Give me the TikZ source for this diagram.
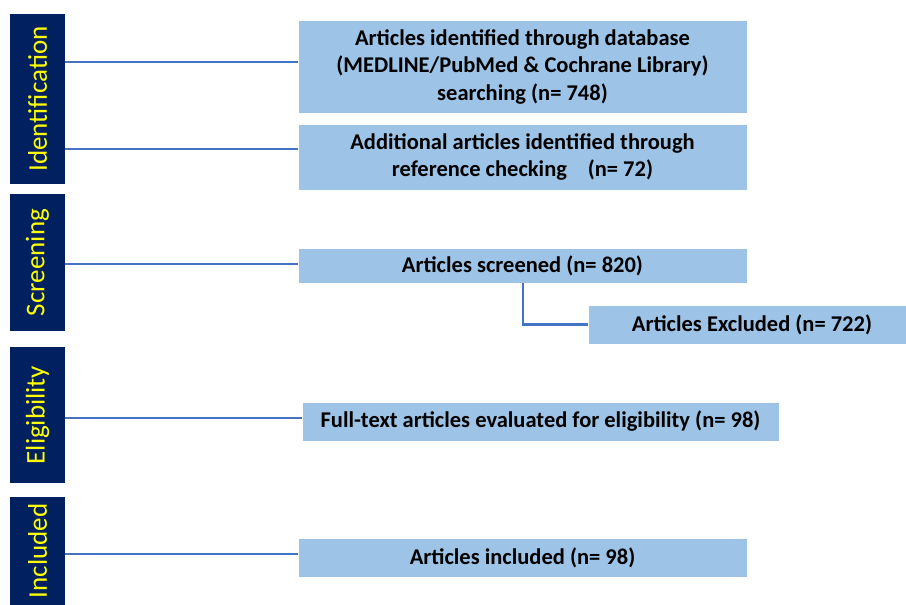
\documentclass[tikz,border=0pt]{standalone}
\usepackage{fontspec}
\setmainfont{Carlito}
\definecolor{barblue}{HTML}{002060}
\definecolor{boxblue}{HTML}{9DC3E6}
\definecolor{linkblue}{HTML}{4472C4}
\definecolor{labyellow}{HTML}{FFFF00}
\tikzset{
  stage/.style={rectangle, fill=barblue, text=labyellow, rotate=90, inner sep=0pt,
    minimum height=55pt, font=\fontsize{27}{30}\selectfont},
  infobox/.style={rectangle, fill=boxblue, draw=white, line width=0.6pt, inner sep=0pt, align=center,
    text=black, font=\fontsize{22.5}{27.5}\selectfont\bfseries},
  link/.style={draw=linkblue, line width=2.3pt}
}
\begin{document}
\begin{tikzpicture}[x=1pt,y=-1pt]
\useasboundingbox (0,0) rectangle (906,605);
% stage bars
\node[stage, minimum width=170pt] (sid) at (37.5,99) {Identification};
\node[stage, minimum width=137pt] (sscr) at (37.5,262.5) {Screening};
\node[stage, minimum width=136pt] (selig) at (37.5,415) {Eligibility};
\node[stage, minimum width=108pt] (sinc) at (37.5,551) {Included};
% boxes
\node[infobox, minimum width=449pt, minimum height=93pt] (b1) at (522.5,66.5)
  {Articles identified through database\\(MEDLINE/PubMed \& Cochrane Library)\\searching (n= 748)};
\node[infobox, minimum width=449pt, minimum height=66pt] (b2) at (522.5,157)
  {Additional articles identified through\\reference checking\hspace{0.7em} (n= 72)};
\node[infobox, minimum width=449pt, minimum height=35pt] (b3) at (522.5,265.5)
  {Articles screened (n= 820)};
\node[infobox, minimum width=318pt, minimum height=39pt] (bx) at (747,324.5)
  {\hspace{10pt}Articles Excluded (n= 722)};
\node[infobox, minimum width=477pt, minimum height=39pt] (b4) at (540.5,421.5)
  {Full-text articles evaluated for eligibility (n= 98)};
\node[infobox, minimum width=449pt, minimum height=39pt] (b5) at (522.5,557.5)
  {Articles included (n= 98)};
% connectors
\draw[link] ([yshift=4.5pt]b1.west) -- ([yshift=4.5pt]b1.west -| sid.south);
\draw[link] ([yshift=8pt]b2.west) -- ([yshift=8pt]b2.west -| sid.south);
\draw[link] ([yshift=1.5pt]b3.west) -- ([yshift=1.5pt]b3.west -| sscr.south);
\draw[link] ([yshift=3.5pt]b4.west) -- ([yshift=3.5pt]b4.west -| selig.south);
\draw[link] ([yshift=3.5pt]b5.west) -- ([yshift=3.5pt]b5.west -| sinc.south);
\coordinate (drop) at (523,283);
\draw[link] (b3.south -| drop) |- (bx.west);
\end{tikzpicture}
\end{document}
